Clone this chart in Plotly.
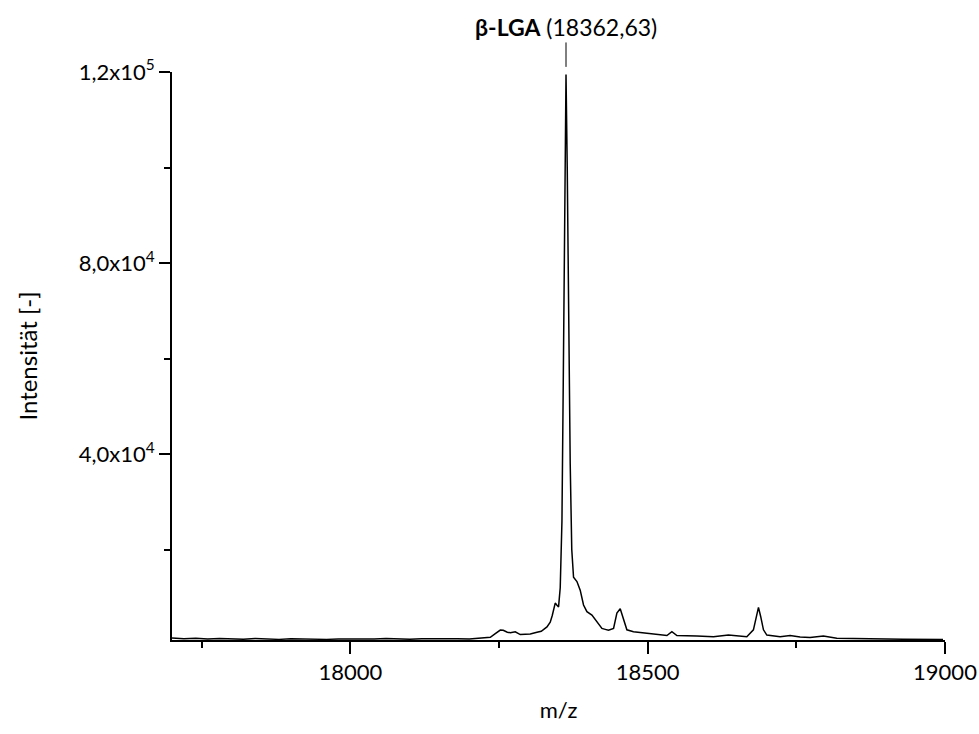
import plotly.graph_objects as go

# m/z values and intensities
mz = [17700, 17720, 17740, 17760, 17780, 17800, 17820, 17840, 17860, 17880,
      17900, 17920, 17940, 17960, 17980, 18000, 18020, 18040, 18060, 18080,
      18100, 18120, 18140, 18160, 18180, 18200, 18220, 18230,
      18235.3, 18243.7, 18252.1, 18257.1, 18263.9, 18269.0, 18277.3, 18285.7,
      18294.0, 18302.5, 18313.8, 18321.0, 18330.6, 18336.1, 18339.5, 18344.5,
      18347.1, 18350.1, 18352.9, 18355.8, 18358.0, 18360.5, 18362.63, 18364.7,
      18367.2, 18369.7, 18372.3, 18375.3, 18381.0, 18386.5, 18392.1, 18397.8,
      18406.2, 18414.6, 18423.0, 18428.6, 18434.1, 18442.6, 18448.2, 18453.8,
      18459.3, 18465.0, 18476.1, 18498.7, 18521.0, 18532.3, 18540.7, 18549.1,
      18582.7, 18610.6, 18635.8, 18666.7, 18677.8, 18682.4, 18686.3, 18690.0,
      18694.7, 18700.4, 18722.7, 18739.5, 18756.3, 18773.1, 18795.5, 18818.0,
      18845.4, 18874.0, 18902.0, 18929.4, 18958.0, 18983.0, 18996.6]
intensity = [1500, 1350, 1450, 1300, 1400, 1350, 1250, 1400, 1300, 1200,
             1350, 1250, 1300, 1200, 1300, 1250, 1350, 1300, 1400, 1300,
             1250, 1350, 1400, 1300, 1350, 1300, 1400, 1550,
             1630, 2400, 3160, 3100, 2700, 2600, 2800, 2200,
             2300, 2350, 2700, 2900, 3800, 4800, 6200, 8800,
             8400, 8000, 12000, 26000, 55000, 90000, 119500, 100000,
             68000, 38000, 20000, 14200, 13300, 11500, 8400, 7000,
             6300, 4900, 3500, 3300, 3100, 3500, 6700, 7600,
             5300, 3200, 2800, 2500, 2150, 2000, 2800, 2000,
             1900, 1750, 2100, 1750, 3200, 6000, 7900, 6000,
             3200, 2100, 1750, 2000, 1700, 1600, 1900, 1450,
             1350, 1400, 1300, 1250, 1200, 1300, 1200]

x_ticks = [18000, 18500, 19000]
x_tick_labels = ["18000", "18500", "19000"]
x_minor = [17750, 18250, 18750]
y_ticks = [40000, 80000, 120000]
y_tick_labels = ["4,0x10<sup>4</sup>", "8,0x10<sup>4</sup>", "1,2x10<sup>5</sup>"]
y_minor = [20000, 60000, 100000]

peak_mz = 18362.63
peak_label = "<b>β-LGA</b> (18362,63)"

FONT = "Lato, 'Open Sans', sans-serif"

fig = go.Figure()
fig.add_trace(go.Scatter(x=mz, y=intensity, mode="lines",
                         line=dict(color="black", width=1.5),
                         showlegend=False, hoverinfo="x+y"))

fig.add_shape(type="line", xref="x", yref="paper", x0=peak_mz, x1=peak_mz,
              y0=1.009, y1=1.052, line=dict(color="black", width=1))
fig.add_annotation(x=peak_mz, xref="x", y=1.079, yref="paper", text=peak_label,
                   showarrow=False, xanchor="center", yanchor="middle",
                   font=dict(size=23, color="black", family=FONT))

fig.update_layout(
    width=979, height=734,
    margin=dict(l=172, r=34, t=72, b=94, autoexpand=False),
    paper_bgcolor="white", plot_bgcolor="white",
    font=dict(family=FONT, size=22, color="black"),
    xaxis=dict(range=[17700, 19000], tickmode="array", tickvals=x_ticks,
               ticktext=x_tick_labels, ticks="outside", ticklen=12, tickwidth=2,
               tickcolor="black", showline=True, linecolor="black", linewidth=2,
               showgrid=False, zeroline=False, tickfont=dict(size=22),
               automargin=False,
               minor=dict(tickmode="array", tickvals=x_minor, ticks="outside",
                          ticklen=6, tickwidth=2, tickcolor="black", showgrid=False),
               title=dict(text="m/z", standoff=18, font=dict(size=22))),
    yaxis=dict(range=[1070, 120000], tickmode="array", tickvals=y_ticks,
               ticktext=y_tick_labels, ticks="outside", ticklen=11, tickwidth=2,
               tickcolor="black", showline=True, linecolor="black", linewidth=2,
               showgrid=False, zeroline=False, tickfont=dict(size=22),
               automargin=False,
               minor=dict(tickmode="array", tickvals=y_minor, ticks="outside",
                          ticklen=6, tickwidth=2, tickcolor="black", showgrid=False),
               title=dict(text="Intensität [-]", standoff=34, font=dict(size=24))),
)

fig.write_html("out.html")
